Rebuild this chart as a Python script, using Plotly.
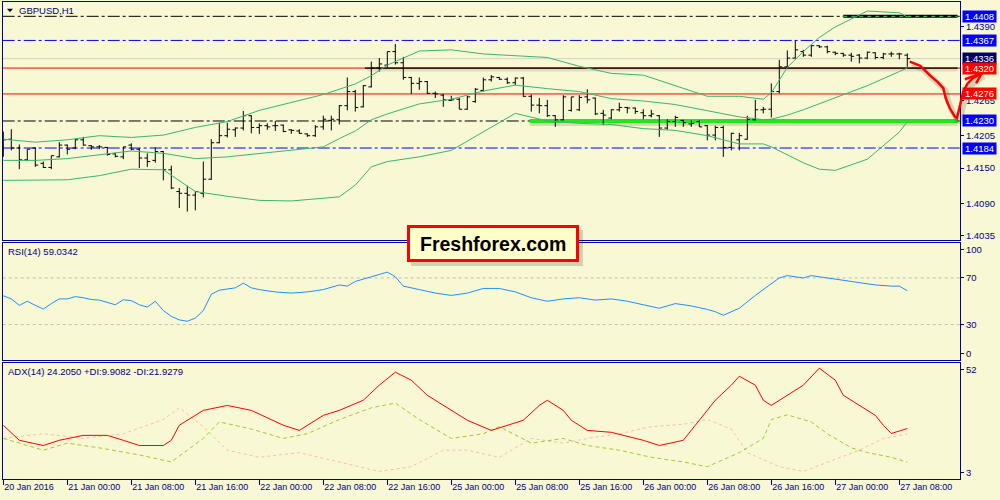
import plotly.graph_objects as go

# ---------------- data ----------------
bar_idx = list(range(114))
tick_bars = [0, 8, 16, 24, 32, 40, 48, 56, 64, 72, 80, 88, 96, 104, 112]
tick_labels = ["20 Jan 2016", "21 Jan 00:00", "21 Jan 08:00", "21 Jan 16:00", "22 Jan 00:00",
               "22 Jan 08:00", "22 Jan 16:00", "25 Jan 00:00", "25 Jan 08:00", "25 Jan 16:00",
               "26 Jan 00:00", "26 Jan 08:00", "26 Jan 16:00", "27 Jan 00:00", "27 Jan 08:00"]

opens = [1.4189, 1.4199, 1.4184, 1.4164, 1.4184, 1.4158, 1.4151, 1.4169, 1.4189, 1.4184,
         1.4198, 1.4188, 1.4186, 1.4185, 1.4174, 1.4169, 1.4189, 1.4182, 1.4167, 1.4163,
         1.4178, 1.4147, 1.4110, 1.4107, 1.4104, 1.4107, 1.4131, 1.4193, 1.4205, 1.4215,
         1.4218, 1.4239, 1.4219, 1.4222, 1.4222, 1.4223, 1.4215, 1.4213, 1.4208, 1.4205,
         1.4220, 1.4231, 1.4232, 1.4256, 1.4280, 1.4254, 1.4288, 1.4320, 1.4325, 1.4348,
         1.4329, 1.4304, 1.4294, 1.4297, 1.4277, 1.4274, 1.4265, 1.4267, 1.4250, 1.4263,
         1.4282, 1.4300, 1.4304, 1.4301, 1.4295, 1.4303, 1.4272, 1.4257, 1.4256, 1.4239,
         1.4232, 1.4248, 1.4249, 1.4271, 1.4269, 1.4243, 1.4235, 1.4249, 1.4253, 1.4252,
         1.4244, 1.4239, 1.4239, 1.4218, 1.4229, 1.4231, 1.4225, 1.4229, 1.4222, 1.4206,
         1.4219, 1.4185, 1.4198, 1.4199, 1.4232, 1.4249, 1.4250, 1.4280, 1.4322, 1.4337,
         1.4348, 1.4342, 1.4358, 1.4356, 1.4347, 1.4345, 1.4342, 1.4342, 1.4337, 1.4346,
         1.4338, 1.4344, 1.4344, 1.4342]
highs = [1.4212, 1.4216, 1.4190, 1.4182, 1.4185, 1.4161, 1.4171, 1.4194, 1.4190, 1.4199,
         1.4203, 1.4189, 1.4189, 1.4186, 1.4176, 1.4186, 1.4192, 1.4184, 1.4175, 1.4185,
         1.4179, 1.4154, 1.4116, 1.4120, 1.4110, 1.4161, 1.4199, 1.4227, 1.4227, 1.4219,
         1.4247, 1.4240, 1.4226, 1.4226, 1.4230, 1.4224, 1.4216, 1.4216, 1.4209, 1.4223,
         1.4239, 1.4239, 1.4257, 1.4304, 1.4283, 1.4291, 1.4331, 1.4337, 1.4348, 1.4361,
         1.4339, 1.4305, 1.4304, 1.4298, 1.4280, 1.4276, 1.4273, 1.4269, 1.4273, 1.4286,
         1.4304, 1.4308, 1.4305, 1.4304, 1.4304, 1.4305, 1.4275, 1.4269, 1.4266, 1.4240,
         1.4274, 1.4271, 1.4274, 1.4284, 1.4270, 1.4249, 1.4250, 1.4261, 1.4254, 1.4253,
         1.4250, 1.4249, 1.4240, 1.4233, 1.4239, 1.4232, 1.4231, 1.4231, 1.4223, 1.4222,
         1.4222, 1.4210, 1.4210, 1.4239, 1.4266, 1.4254, 1.4294, 1.4334, 1.4350, 1.4367,
         1.4351, 1.4359, 1.4359, 1.4358, 1.4348, 1.4346, 1.4346, 1.4344, 1.4348, 1.4347,
         1.4346, 1.4348, 1.4346, 1.4345]
lows = [1.4169, 1.4180, 1.4148, 1.4162, 1.4152, 1.4150, 1.4148, 1.4168, 1.4173, 1.4182,
        1.4188, 1.4181, 1.4182, 1.4171, 1.4168, 1.4165, 1.4180, 1.4150, 1.4152, 1.4159,
        1.4129, 1.4114, 1.4082, 1.4076, 1.4078, 1.4100, 1.4130, 1.4192, 1.4202, 1.4203,
        1.4214, 1.4209, 1.4208, 1.4215, 1.4213, 1.4211, 1.4208, 1.4208, 1.4203, 1.4203,
        1.4215, 1.4214, 1.4224, 1.4248, 1.4246, 1.4253, 1.4287, 1.4314, 1.4321, 1.4326,
        1.4300, 1.4276, 1.4283, 1.4276, 1.4269, 1.4254, 1.4264, 1.4250, 1.4249, 1.4261,
        1.4280, 1.4297, 1.4300, 1.4293, 1.4291, 1.4271, 1.4246, 1.4243, 1.4237, 1.4220,
        1.4231, 1.4246, 1.4247, 1.4260, 1.4240, 1.4223, 1.4233, 1.4246, 1.4243, 1.4242,
        1.4233, 1.4236, 1.4203, 1.4215, 1.4220, 1.4220, 1.4220, 1.4220, 1.4197, 1.4197,
        1.4169, 1.4180, 1.4180, 1.4198, 1.4231, 1.4243, 1.4236, 1.4277, 1.4320, 1.4336,
        1.4339, 1.4339, 1.4354, 1.4345, 1.4342, 1.4339, 1.4331, 1.4328, 1.4335, 1.4335,
        1.4335, 1.4339, 1.4335, 1.4322]
closes = [1.4198, 1.4184, 1.4164, 1.4182, 1.4155, 1.4151, 1.4171, 1.4189, 1.4182, 1.4198,
          1.4189, 1.4186, 1.4186, 1.4173, 1.4170, 1.4186, 1.4182, 1.4167, 1.4161, 1.4178,
          1.4147, 1.4116, 1.4107, 1.4104, 1.4110, 1.4131, 1.4193, 1.4205, 1.4216, 1.4218,
          1.4239, 1.4219, 1.4222, 1.4220, 1.4222, 1.4212, 1.4214, 1.4209, 1.4205, 1.4220,
          1.4233, 1.4233, 1.4256, 1.4280, 1.4253, 1.4290, 1.4320, 1.4327, 1.4348, 1.4329,
          1.4304, 1.4294, 1.4297, 1.4277, 1.4276, 1.4266, 1.4266, 1.4250, 1.4271, 1.4284,
          1.4300, 1.4305, 1.4301, 1.4295, 1.4303, 1.4272, 1.4257, 1.4256, 1.4239, 1.4232,
          1.4271, 1.4271, 1.4270, 1.4266, 1.4242, 1.4240, 1.4249, 1.4253, 1.4252, 1.4246,
          1.4239, 1.4242, 1.4218, 1.4229, 1.4236, 1.4227, 1.4226, 1.4220, 1.4206, 1.4219,
          1.4185, 1.4209, 1.4205, 1.4233, 1.4249, 1.4250, 1.4280, 1.4322, 1.4337, 1.4351,
          1.4342, 1.4358, 1.4356, 1.4348, 1.4345, 1.4342, 1.4340, 1.4337, 1.4347, 1.4338,
          1.4344, 1.4344, 1.4344, 1.4336]

bb_idx = [0, 4, 8, 12, 16, 20, 24, 28, 32, 36, 40, 42, 44, 46, 48, 52, 56, 60, 64, 68,
          72, 76, 80, 84, 88, 92, 94, 95, 96, 98, 100, 102, 104, 108, 112, 113]
bb_upper = [1.4199, 1.4194, 1.4198, 1.4205, 1.4202, 1.4206, 1.4219, 1.4229, 1.4248, 1.4262,
            1.4275, 1.4284, 1.4293, 1.4307, 1.4325, 1.4349, 1.4351, 1.4344, 1.4341, 1.4338,
            1.4323, 1.4311, 1.4308, 1.4290, 1.4272, 1.4272, 1.4269, 1.4267, 1.4278, 1.4321,
            1.4348, 1.4372, 1.4390, 1.4417, 1.4414, 1.4407]
bb_middle = [1.4163, 1.4163, 1.4166, 1.4172, 1.4179, 1.4175, 1.4166, 1.4169, 1.4175, 1.4180,
             1.4186, 1.4200, 1.4213, 1.4232, 1.4242, 1.4259, 1.4267, 1.4281, 1.4291, 1.4285,
             1.4280, 1.4268, 1.4264, 1.4258, 1.4248, 1.4237, 1.4234, 1.4232, 1.4233, 1.4240,
             1.4249, 1.4259, 1.4270, 1.4290, 1.4314, 1.4320]
bb_lower = [1.4129, 1.4130, 1.4130, 1.4137, 1.4148, 1.4147, 1.4110, 1.4102, 1.4095, 1.4094,
            1.4098, 1.4101, 1.4121, 1.4152, 1.4161, 1.4169, 1.4180, 1.4211, 1.4243, 1.4230,
            1.4226, 1.4224, 1.4217, 1.4214, 1.4205, 1.4191, 1.4191, 1.4191, 1.4186, 1.4173,
            1.4159, 1.4148, 1.4146, 1.4165, 1.4211, 1.4229]

rsi_idx = list(range(32)) + [32, 34, 36, 38, 40, 42, 43, 44, 46, 48, 49, 50, 52, 54, 56, 58,
                             60, 62, 64, 66, 68, 70, 72, 74, 76, 78, 80, 82, 84, 86, 88, 89,
                             90, 92, 94, 96, 97, 98, 100, 101, 103, 105, 107, 109, 111, 112, 113]
rsi_val = [54.7, 52, 46.5, 50, 46.5, 43.3, 48, 52, 52, 54, 53, 51.5, 51, 49, 47, 51.3, 50.5, 47,
           45, 50, 42, 37, 34, 32.8, 35.5, 42, 56, 59.5, 60.5, 61.5, 65.5, 61.5,
           60, 58, 57, 58, 60, 64, 63, 67, 71, 75, 71, 63, 60, 57, 55, 57, 61, 61, 58, 53,
           50, 52, 53, 51, 52, 50, 47, 44, 48, 46, 43, 41, 38, 44, 55, 65, 70, 72, 70, 72,
           70, 68, 66, 64, 63, 63, 59.0342]

adx_idx = [0, 2, 5, 7, 10, 13, 15, 17, 20, 21, 22, 25, 28, 31, 35, 37, 40, 42, 45, 47,
           49, 51, 53, 56, 58, 61, 63, 65, 67, 68, 70, 71, 73, 76, 80, 82, 85, 87, 89, 91,
           92, 94, 95, 96, 98, 100, 102, 104, 105, 107, 109, 110, 111, 113]
adx_val = [25.6, 19.2, 17, 19.2, 21.3, 21.3, 19.2, 17, 17, 19.2, 25.6, 31.9, 34, 31.9, 25.6,
           23.4, 29.8, 31.9, 36.2, 42.6, 48.1, 44.7, 38.3, 31.9, 27.7, 23.4, 25.6, 27.7, 34,
           36.2, 31.9, 27.7, 23.4, 22.6, 19.2, 17, 19.2, 27.7, 36.2, 42.6, 46.4, 42.6, 36.2,
           34, 38.3, 42.6, 49.8, 44.7, 38.3, 34, 29.8, 25.6, 22.1, 24.205]
pdi_idx = [0, 5, 8, 12, 17, 21, 25, 27, 31, 35, 38, 42, 46, 49, 52, 56, 60, 62, 66, 70,
           73, 77, 81, 85, 88, 92, 95, 96, 98, 101, 103, 106, 108, 111, 113]
pdi_val = [20, 15, 18, 16, 13, 10, 20, 27, 24, 20, 22, 28, 33, 35, 28, 20, 22, 25, 18, 20,
           17, 15, 12, 10, 8, 14, 20, 28, 30, 27, 22, 16, 14, 12, 9.9082]
mdi_idx = [0, 5, 10, 15, 20, 22, 25, 28, 32, 37, 42, 47, 51, 55, 58, 62, 66, 70, 73, 77,
           81, 85, 88, 91, 93, 97, 100, 103, 107, 110, 113]
mdi_val = [20, 22, 20, 22, 28, 33, 25, 15, 12, 14, 10, 6, 8, 15, 15, 12, 20, 18, 20, 22,
           25, 26, 28, 24, 14, 8, 6, 10, 15, 20, 21.9279]

price_ticks = [1.4390, 1.4265, 1.4205, 1.4150, 1.4090, 1.4035]

# hand-drawn arrow, in (bar index, price)
arrow_idx = [113.3, 114.6, 115.8, 116.8, 117.5, 117.8, 118.3, 118.96, 119.2, 119.6, 119.96,
             120.5, 121.2, 122.3]
arrow_px = [1.4331, 1.4324, 1.4308, 1.4296, 1.4286, 1.4269, 1.4252, 1.4237, 1.4235, 1.4257,
            1.4279, 1.4293, 1.4303, 1.4311]
head_idx = [120.2, 122.3, 121.6]
head_px = [1.4301, 1.4311, 1.4294]

# ---------------- geometry / style ----------------
W, H = 1000, 500
FONT = "Liberation Sans, Arial, sans-serif"
FS = 9.5
NAVY = "#000080"
AXC = "#00009A"
BG = "#F8F8D4"

X_L, X_R = 2.7, 960.0
XR = [-0.075, 119.5875]
MAIN = (1.5, 240.0)
RSI = (243.0, 359.5)
ADX = (363.0, 478.5)
YR_MAIN = [1.40276, 1.44332]


def dom(p):
    return [1 - p[1] / H, 1 - p[0] / H]


def px(x):
    return x / W


def py(y):
    return 1 - y / H


def main_to_paper(i, p):
    fx = (X_L + (i - XR[0]) / (XR[1] - XR[0]) * (X_R - X_L)) / W
    d = dom(MAIN)
    fy = d[0] + (p - YR_MAIN[0]) / (YR_MAIN[1] - YR_MAIN[0]) * (d[1] - d[0])
    return fx, fy


fig = go.Figure()

fig.add_trace(go.Ohlc(x=bar_idx, open=opens, high=highs, low=lows, close=closes,
                      increasing=dict(line=dict(color="black", width=1)),
                      decreasing=dict(line=dict(color="black", width=1)),
                      tickwidth=0.36, xaxis="x", yaxis="y", showlegend=False,
                      hoverinfo="skip"))
for band in (bb_upper, bb_middle, bb_lower):
    fig.add_trace(go.Scatter(x=bb_idx, y=band, mode="lines", xaxis="x", yaxis="y",
                             line=dict(color="#3CB371", width=1), showlegend=False,
                             hoverinfo="skip"))

fig.add_trace(go.Scatter(x=rsi_idx, y=rsi_val, mode="lines", xaxis="x2", yaxis="y2",
                         line=dict(color="#1E90FF", width=1), showlegend=False, hoverinfo="skip"))

fig.add_trace(go.Scatter(x=mdi_idx, y=mdi_val, mode="lines", xaxis="x3", yaxis="y3",
                         line=dict(color="#F5BFA8", width=1, dash="dot"), showlegend=False,
                         hoverinfo="skip"))
fig.add_trace(go.Scatter(x=pdi_idx, y=pdi_val, mode="lines", xaxis="x3", yaxis="y3",
                         line=dict(color="#9ACD32", width=1, dash="4px,3px"), showlegend=False,
                         hoverinfo="skip"))
fig.add_trace(go.Scatter(x=adx_idx, y=adx_val, mode="lines", xaxis="x3", yaxis="y3",
                         line=dict(color="#FF0000", width=1), showlegend=False, hoverinfo="skip"))

DASHDOT = "12px,3px,3px,3px"
shapes = []


def hline(price, color, width=1, dash="solid", i0=None, layer="below", yref="y"):
    if i0 is None:
        shapes.append(dict(type="line", xref="x domain", x0=0, x1=1, yref=yref, y0=price, y1=price,
                           line=dict(color=color, width=width, dash=dash), layer=layer))
    else:
        shapes.append(dict(type="line", xref="x", x0=i0, x1=XR[1] - 0.3, yref=yref, y0=price,
                           y1=price, line=dict(color=color, width=width, dash=dash), layer=layer))


# horizontal levels
hline(1.4408, "black", 1, DASHDOT)
hline(1.4408, "black", 3, "solid", i0=105.0)
hline(1.4408, "#33DD33", 1, "4px,4px", i0=105.0)
hline(1.4367, "#0000FF", 1, DASHDOT)
hline(1.4336, "#D2D2C8", 1)
hline(1.4320, "#FF0000", 1)
hline(1.43175, "rgba(0,0,0,0.10)", 4, "solid", i0=45.5)
hline(1.4320, "black", 1.3, "solid", i0=45.2)
hline(1.4276, "#FF0000", 1)
hline(1.42275, "rgba(0,0,0,0.12)", 7, "solid", i0=65.8)
hline(1.4230, "#22E622", 4, "solid", i0=65.8)
hline(1.4230, "black", 1, DASHDOT)
hline(1.4184, "#0000FF", 1, DASHDOT)
# RSI levels
hline(70, "#BEBEBE", 1, "3px,3px", yref="y2")
hline(30, "#BEBEBE", 1, "3px,3px", yref="y2")

# arrow (shadow + red stroke)
pts = [main_to_paper(i, p) for i, p in zip(arrow_idx, arrow_px)]
hpts = [main_to_paper(i, p) for i, p in zip(head_idx, head_px)]


def path_of(points, dx=0.0, dy=0.0):
    return "M " + " L ".join(f"{x + dx:.5f},{y + dy:.5f}" for x, y in points)


shapes.append(dict(type="path", xref="paper", yref="paper", path=path_of(pts, 2.5 / W, -3 / H),
                   line=dict(color="rgba(0,0,0,0.15)", width=6), layer="above"))
shapes.append(dict(type="path", xref="paper", yref="paper", path=path_of(pts),
                   line=dict(color="#FF0000", width=2.5), layer="above"))
shapes.append(dict(type="path", xref="paper", yref="paper", path=path_of(hpts),
                   line=dict(color="#FF0000", width=2.5), layer="above"))

# logo box
shapes.append(dict(type="rect", xref="paper", yref="paper", x0=px(411), x1=px(583), y0=py(266),
                   y1=py(230), fillcolor="rgba(0,0,0,0.16)", line=dict(width=0), layer="above"))
shapes.append(dict(type="rect", xref="paper", yref="paper", x0=px(408.5), x1=px(577.5),
                   y0=py(260.5), y1=py(226.5), fillcolor="#FFFFCC",
                   line=dict(color="#FF0000", width=3), layer="above"))
# small triangle near the symbol name
shapes.append(dict(type="path", xref="paper", yref="paper",
                   path=f"M {px(7)},{py(8.8)} L {px(13)},{py(8.8)} L {px(10)},{py(12.3)} Z",
                   fillcolor="#000040", line=dict(width=0), layer="above"))

annotations = []


def price_box(price, text, bg):
    annotations.append(dict(x=px(961.5), xref="paper", xanchor="left", y=price, yref="y",
                            yanchor="middle", text=text, showarrow=False, bgcolor=bg,
                            font=dict(color="white", size=FS, family=FONT),
                            width=33, height=11, borderpad=0))


price_box(1.4408, "1.4408", "#0000FF")
price_box(1.4367, "1.4367", "#0000FF")
price_box(1.4336, "1.4336", "#000060")
price_box(1.4320, "1.4320", "#FF0000")
price_box(1.4276, "1.4276", "#FF0000")
price_box(1.4230, "1.4230", "#0000FF")
price_box(1.4184, "1.4184", "#0000FF")


def label(x, y, text, size=FS, color=NAVY, anchor="left", family=FONT):
    annotations.append(dict(x=px(x), y=py(y), xref="paper", yref="paper", xanchor=anchor,
                            yanchor="middle", text=text, showarrow=False,
                            font=dict(size=size, color=color, family=family)))


label(17, 10.5, "GBPUSD,H1")
label(6, 251.5, "RSI(14) 59.0342")
label(6, 371.5, "ADX(14) 24.2050 +DI:9.9082 -DI:21.9279")
label(493, 244, "<b>Freshforex.com</b>", size=19.5, color="black", anchor="center",
      family="Liberation Sans, Arial, sans-serif")

axis_common = dict(showgrid=False, zeroline=False, showline=True, mirror=True, linecolor=AXC,
                   linewidth=1, fixedrange=True, automargin=False)
tickfont = dict(size=FS, color=NAVY, family=FONT)

fig.update_layout(
    template="none",
    width=W, height=H, autosize=False,
    margin=dict(l=0, r=0, t=0, b=0, pad=0),
    paper_bgcolor=BG, plot_bgcolor=BG,
    showlegend=False,
    shapes=shapes, annotations=annotations,
    xaxis=dict(domain=[px(X_L), px(X_R)], range=XR, anchor="y", showticklabels=False,
               ticks="", rangeslider=dict(visible=False), **axis_common),
    xaxis2=dict(domain=[px(X_L), px(X_R)], range=XR, anchor="y2", showticklabels=False,
                ticks="", matches="x", **axis_common),
    xaxis3=dict(domain=[px(X_L), px(X_R)], range=XR, anchor="y3", matches="x",
                tickmode="array", tickvals=tick_bars, ticktext=tick_labels, ticks="outside",
                ticklen=5, tickcolor=AXC, ticklabelposition="outside right", tickangle=0,
                tickfont=dict(size=9, color=NAVY, family=FONT), **axis_common),
    yaxis=dict(domain=dom(MAIN), range=YR_MAIN, anchor="x", side="right", tickmode="array",
               tickvals=price_ticks, ticktext=[f"{v:.4f}" for v in price_ticks],
               ticks="outside", ticklen=3, tickcolor=AXC, tickfont=tickfont, **axis_common),
    yaxis2=dict(domain=dom(RSI), range=[0, 100], anchor="x2", side="right", tickmode="array",
                tickvals=[5.3, 30, 70, 94.6], ticktext=["0", "30", "70", "100"],
                ticks="outside", ticklen=3, tickcolor=AXC, tickfont=tickfont, **axis_common),
    yaxis3=dict(domain=dom(ADX), range=[3, 52], anchor="x3", side="right", tickmode="array",
                tickvals=[5.6, 49.3], ticktext=["3", "52"],
                ticks="outside", ticklen=3, tickcolor=AXC, tickfont=tickfont, **axis_common),
)

fig.write_html("out.html", config={"displayModeBar": False, "staticPlot": True},
               post_script="document.body.style.margin='0';document.body.style.padding='0';"
                           "document.body.style.overflow='hidden';")
